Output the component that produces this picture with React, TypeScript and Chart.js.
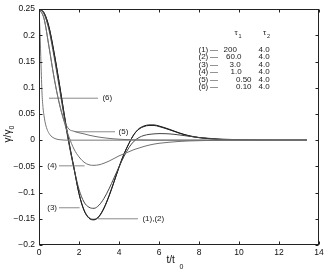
import React, { useEffect, useRef } from "react";
import { Chart, registerables } from "chart.js";

Chart.register(...registerables);

// ---- data ----
const tGrid = [0, 0.25, 0.5, 0.75, 1.0, 1.25, 1.5, 1.75, 2.0, 2.25, 2.5, 2.75, 3.0, 3.25, 3.5, 3.75, 4.0, 4.25, 4.5, 4.75, 5.0, 5.25, 5.5, 5.75, 6.0, 6.5, 7.0, 7.5, 8.0, 8.5, 9.0, 10.0, 11.0, 12.0, 13.4];

const curve1 = [0.25, 0.243, 0.216, 0.168, 0.112, 0.052, -0.004, -0.053, -0.102, -0.134, -0.149, -0.152, -0.146, -0.13, -0.107, -0.08, -0.052, -0.027, -0.006, 0.011, 0.022, 0.027, 0.029, 0.029, 0.027, 0.021, 0.014, 0.0085, 0.005, 0.003, 0.0015, 0.0005, 0.0001, 0, 0];
const curve2 = [0.25, 0.243, 0.215, 0.167, 0.111, 0.051, -0.005, -0.054, -0.102, -0.133, -0.148, -0.151, -0.145, -0.129, -0.106, -0.079, -0.051, -0.026, -0.006, 0.011, 0.021, 0.026, 0.028, 0.028, 0.026, 0.02, 0.0135, 0.008, 0.0048, 0.0029, 0.0015, 0.0005, 0.0001, 0, 0];
const curve3 = [0.25, 0.241, 0.21, 0.16, 0.104, 0.046, -0.008, -0.054, -0.094, -0.118, -0.128, -0.13, -0.124, -0.111, -0.093, -0.072, -0.051, -0.031, -0.014, -0.002, 0.005, 0.009, 0.011, 0.012, 0.0125, 0.012, 0.01, 0.0075, 0.005, 0.0035, 0.0022, 0.0008, 0.0002, 0, 0];
const curve4 = [0.25, 0.232, 0.178, 0.12, 0.072, 0.036, 0.006, -0.017, -0.032, -0.042, -0.047, -0.048, -0.047, -0.044, -0.04, -0.035, -0.03, -0.026, -0.022, -0.018, -0.015, -0.012, -0.0095, -0.0075, -0.006, -0.004, -0.0025, -0.0015, -0.001, -0.0005, -0.0003, -0.0001, 0, 0, 0];
const curve5 = [0.25, 0.232, 0.178, 0.12, 0.073, 0.038, 0.021, 0.017, 0.014, 0.012, 0.0095, 0.0075, 0.0058, 0.0045, 0.0034, 0.0025, 0.0018, 0.0013, 0.001, 0.0007, 0.0005, 0.0003, 0.0002, 0.0001, 0, 0, 0, 0, 0, 0, 0, 0, 0, 0, 0];

const tGrid6 = [0, 0.05, 0.1, 0.15, 0.2, 0.25, 0.3, 0.4, 0.5, 0.6, 0.7, 0.8, 1.0, 1.5, 2.0, 13.4];
const curve6 = [0.25, 0.205, 0.145, 0.09, 0.062, 0.047, 0.035, 0.021, 0.013, 0.008, 0.005, 0.003, 0.001, 0, 0, 0];

const xTicks = [0, 2, 4, 6, 8, 10, 12, 14];
const xTickLabels = ["0", "2", "4", "6", "8", "10", "12", "14"];
const yTicks = [-0.2, -0.15, -0.1, -0.05, 0, 0.05, 0.1, 0.15, 0.2, 0.25];
const yTickLabels = ["\u22120.2", "\u22120.15", "\u22120.1", "\u22120.05", "0", "0.05", "0.1", "0.15", "0.2", "0.25"];

// leader-line annotations (data coordinates)
const annLabels = ["(6)", "(5)", "(4)", "(3)", "(1),(2)"];
const annX1 = [0.5, 1.8, 1.0, 1.0, 2.95];
const annX2 = [2.95, 3.8, 2.28, 2.03, 4.95];
const annY = [0.08, 0.016, -0.049, -0.129, -0.15];
const annTextX = [3.17, 3.98, 0.9, 0.9, 5.17];
const annTextSide = ["right", "right", "left", "left", "right"];

// legend table
const legendIds = ["(1)", "(2)", "(3)", "(4)", "(5)", "(6)"];
const tau1Values = ["200", "60.0", "3.0", "1.0", "0.50", "0.10"];
const tau2Values = ["4.0", "4.0", "4.0", "4.0", "4.0", "4.0"];

const FONT = "'Liberation Sans', Arial, Helvetica, sans-serif";

export default function App() {
  const ref = useRef<HTMLCanvasElement | null>(null);

  useEffect(() => {
    document.body.style.margin = "0";
    const canvas = ref.current;
    if (!canvas) return;

    const mk = (ts: number[], ys: number[]) => ts.map((t, i) => ({ x: t, y: ys[i] }));

    const curveDs = (data: any, color: string) => ({
      data,
      borderColor: color,
      borderWidth: 1,
      pointRadius: 0,
      fill: false,
      cubicInterpolationMode: "monotone" as const,
    });

    const annDs = annLabels.map((_, i) => ({
      data: [
        { x: annX1[i], y: annY[i] },
        { x: annX2[i], y: annY[i] },
      ],
      borderColor: "#8a8a8a",
      borderWidth: 1,
      pointRadius: 0,
      fill: false,
    }));

    const overlay = {
      id: "overlay",
      afterDraw(chart: any) {
        const { ctx, chartArea } = chart;
        const xs = chart.scales.x;
        const ys = chart.scales.y;
        ctx.save();
        // box
        ctx.strokeStyle = "#222";
        ctx.lineWidth = 1;
        const L = Math.round(chartArea.left) + 0.5;
        const R = Math.round(chartArea.right) - 0.5;
        const T = Math.round(chartArea.top) + 0.5;
        const B = Math.round(chartArea.bottom) - 0.5;
        ctx.strokeRect(L, T, R - L, B - T);
        // inward ticks
        const tl = 3;
        ctx.beginPath();
        xTicks.forEach((v) => {
          const px = Math.round(xs.getPixelForValue(v)) + 0.5;
          ctx.moveTo(px, B);
          ctx.lineTo(px, B - tl);
          ctx.moveTo(px, T);
          ctx.lineTo(px, T + tl);
        });
        yTicks.forEach((v) => {
          const py = Math.round(ys.getPixelForValue(v)) + 0.5;
          ctx.moveTo(L, py);
          ctx.lineTo(L + tl, py);
          ctx.moveTo(R, py);
          ctx.lineTo(R - tl, py);
        });
        ctx.stroke();

        // annotation labels
        ctx.fillStyle = "#222";
        ctx.font = `8px ${FONT}`;
        ctx.textBaseline = "middle";
        annLabels.forEach((lab, i) => {
          ctx.textAlign = annTextSide[i] === "right" ? "left" : "right";
          ctx.fillText(lab, xs.getPixelForValue(annTextX[i]), ys.getPixelForValue(annY[i]));
        });

        // legend table
        ctx.textAlign = "left";
        const rowY0 = 49.5;
        const rowDy = 7.45;
        const t1x = [223.5, 226, 229.5, 230.5, 236, 236];
        legendIds.forEach((id, i) => {
          const y = rowY0 + i * rowDy;
          ctx.fillText(id, 198.5, y);
          ctx.fillText("\u2014", 210, y);
          ctx.fillText(tau1Values[i], t1x[i], y);
          ctx.fillText(tau2Values[i], 258.5, y);
        });
        // headers
        ctx.font = `8px ${FONT}`;
        ctx.fillText("\u03c4", 234.5, 33);
        ctx.fillText("\u03c4", 263, 33);
        ctx.font = `5.5px ${FONT}`;
        ctx.fillText("1", 238.5, 36.5);
        ctx.fillText("2", 267, 36.5);

        // x title
        ctx.font = `10px ${FONT}`;
        ctx.textAlign = "left";
        ctx.textBaseline = "alphabetic";
        ctx.fillStyle = "#111";
        ctx.fillText("t/t", 166.5, 263);
        ctx.font = `7px ${FONT}`;
        ctx.fillText("0", 179.5, 269);

        // y title
        ctx.translate(11, 134);
        ctx.rotate(-Math.PI / 2);
        ctx.font = `10px ${FONT}`;
        const w1 = ctx.measureText("\u03b3/\u03b3").width;
        ctx.fillText("\u03b3/\u03b3", -w1 / 2 - 2, 0);
        ctx.font = `7px ${FONT}`;
        ctx.fillText("0", w1 / 2 - 2, 3);
        ctx.restore();
      },
    };

    const chart = new Chart(canvas, {
      type: "line",
      data: {
        datasets: [
          curveDs(mk(tGrid, curve5), "#707070"),
          curveDs(mk(tGrid, curve4), "#707070"),
          curveDs(mk(tGrid6, curve6), "#777777"),
          curveDs(mk(tGrid, curve3), "#444444"),
          curveDs(mk(tGrid, curve2), "#222222"),
          curveDs(mk(tGrid, curve1), "#111111"),
          ...annDs,
        ] as any,
      },
      options: {
        responsive: false,
        animation: false,
        events: [],
        layout: { padding: { top: 8, right: 8, left: 0, bottom: 0 } },
        plugins: { legend: { display: false }, tooltip: { enabled: false } },
        scales: {
          x: {
            type: "linear",
            min: 0,
            max: 14,
            grid: { display: false, drawTicks: false },
            border: { display: false },
            afterBuildTicks: (s: any) => {
              s.ticks = xTicks.map((v) => ({ value: v }));
            },
            afterFit: (s: any) => {
              s.height = 28;
            },
            ticks: {
              padding: 3,
              color: "#111",
              font: { size: 8.5, family: FONT },
              maxRotation: 0,
              autoSkip: false,
              callback: (v: any) => {
                const i = xTicks.findIndex((t) => Math.abs(t - Number(v)) < 1e-6);
                return i >= 0 ? xTickLabels[i] : "";
              },
            },
          },
          y: {
            type: "linear",
            min: -0.2,
            max: 0.25,
            grid: { display: false, drawTicks: false },
            border: { display: false },
            afterBuildTicks: (s: any) => {
              s.ticks = yTicks.map((v) => ({ value: v }));
            },
            afterFit: (s: any) => {
              s.width = 39;
            },
            ticks: {
              padding: 4,
              color: "#111",
              font: { size: 8.5, family: FONT },
              autoSkip: false,
              callback: (v: any) => {
                const i = yTicks.findIndex((t) => Math.abs(t - Number(v)) < 1e-6);
                return i >= 0 ? yTickLabels[i] : "";
              },
            },
          },
        },
      },
      plugins: [overlay],
    });

    return () => chart.destroy();
  }, []);

  return (
    <div style={{ position: "absolute", left: 0, top: 0, width: 327, height: 273, background: "#fff" }}>
      <canvas ref={ref} width={327} height={273} style={{ display: "block", width: 327, height: 273 }} />
    </div>
  );
}
